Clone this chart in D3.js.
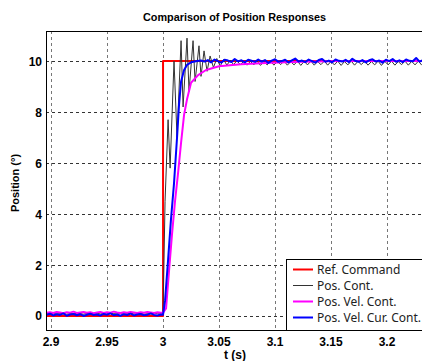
<!DOCTYPE html>
<html>
<head>
<meta charset="utf-8">
<script src="https://cdn.jsdelivr.net/npm/d3@7"></script>
<style>
  body { margin: 0; background: #fff; }
  svg { display: block; }
  .tick-label { font-family: "Liberation Sans", Arial, sans-serif; font-weight: bold; font-size: 12px; fill: #000; }
  .legend text { font-family: "Noto Sans", "Open Sans", sans-serif; font-size: 12px; fill: #222; }
</style>
</head>
<body>
<div id="chart"></div>
<script>
  // sampled parts of the signals (sample step dt)
  let dt = 0.003;
  let preStart = 2.896;

  let legendNames = ["Ref. Command", "Pos. Cont.", "Pos. Vel. Cont.", "Pos. Vel. Cur. Cont."];
  let xTicks = [2.9, 2.95, 3, 3.05, 3.1, 3.15, 3.2];
  let xTickLabels = ["2.9", "2.95", "3", "3.05", "3.1", "3.15", "3.2"];
  let yTicks = [0, 2, 4, 6, 8, 10];

  // reference step
  let refT = [2.8955, 3.0, 3.0, 3.233];
  let refY = [0, 0, 10, 10];

  // Pos. Cont.
  let posPre = [0.09,0.07,0.1,0.08,0.09,0.11,0.07,0.09,0.08,0.1,0.09,0.07,0.1,0.08,0.09,0.11,0.08,0.09,
                0.07,0.1,0.09,0.08,0.1,0.07,0.09,0.11,0.08,0.09,0.1,0.07,0.09,0.08,0.1,0.09,0.08];
  let posTransT = [3.0, 3.0018, 3.0045, 3.0063, 3.0098, 3.0125, 3.0161, 3.0179, 3.0214, 3.0232,
                   3.0268, 3.0286, 3.0321, 3.0339, 3.0366, 3.0393, 3.042];
  let posTransY = [0.08, 4.5, 7.7, 5.8, 10.0, 7.0, 10.8, 8.2, 10.9, 8.8, 10.8, 9.2, 10.6, 9.4, 10.4, 9.6, 10.2];
  let posTailStart = 3.045;
  let posTail = [9.75,10.1,9.8,10.06,9.84,10.03,9.86,10.02,9.85,10.0,9.84,9.99,9.85,10.0,9.83,9.98,9.85,10.0,
                 9.84,9.99,9.86,10.0,9.84,9.98,9.85,10.0,9.83,9.99,9.85,10.0,9.84,9.98,9.86,10.0,9.84,9.99,
                 9.85,10.0,9.83,9.98,9.85,10.0,9.84,9.99,9.86,10.0,9.84,9.98,9.85,10.0,9.83,9.99,9.85,10.0,
                 9.84,9.98,9.86,10.0,9.84,9.99,9.85,10.0,9.84];

  // Pos. Vel. Cont.
  let velPre = [0.13,0.15,0.12,0.16,0.14,0.11,0.15,0.13,0.17,0.12,0.14,0.16,0.13,0.15,0.11,0.14,0.16,0.12,
                0.15,0.13,0.17,0.14,0.12,0.15,0.13,0.16,0.14,0.12,0.15,0.13,0.16,0.14,0.12,0.15,0.13];
  let velT = [3.0, 3.0027, 3.0054, 3.008, 3.0107, 3.0134, 3.0161, 3.0188, 3.0214, 3.025, 3.0313,
              3.0384, 3.05, 3.0696, 3.0964, 3.1232, 3.1589, 3.233];
  let velY = [0.13, 0.3, 1.8, 3.2, 4.5, 5.6, 6.8, 7.9, 8.5, 9.15, 9.45, 9.65, 9.8, 9.88, 9.93, 9.97, 10.0, 10.0];

  // Pos. Vel. Cur. Cont.
  let curPre = [0.05,0.09,0.02,0.07,0.04,0.1,0.01,0.06,0.08,0.03,0.07,0.0,0.05,0.09,0.04,0.06,0.02,0.08,
                0.05,0.1,0.03,0.06,0.01,0.07,0.04,0.09,0.02,0.06,0.08,0.03,0.05,0.1,0.04,0.02,0.06];
  let curTransT = [3.0, 3.0018, 3.0045, 3.0071, 3.0098, 3.0125, 3.0143, 3.0161, 3.0188, 3.0214, 3.025, 3.0304, 3.0339];
  let curTransY = [0.05, 0.6, 2.2, 3.8, 5.2, 7.0, 8.3, 9.2, 9.65, 9.85, 9.95, 10.0, 10.02];
  let curTailStart = 3.037;
  let curTail = [9.98,10.04,9.95,10.06,10.0,9.94,10.05,10.02,9.96,10.08,9.99,10.03,9.95,10.05,10.01,9.97,
                 10.06,9.98,10.04,9.93,10.02,10.07,9.97,10.0,10.05,9.95,10.03,10.1,9.98,10.02,9.96,10.06,
                 10.0,9.94,10.04,10.08,9.97,10.02,9.95,10.06,10.01,9.98,10.05,9.96,10.09,10.0,9.97,10.04,
                 9.95,10.03,10.07,9.98,10.02,9.94,10.05,10.0,10.08,9.97,10.03,9.96,10.06,10.01,9.99,10.12,
                 9.98,10.03];

  let colors = ["#ff0000", "#333333", "#ff00ff", "#0000ff"];
  let widths = [2, 1, 2, 2];

  // build point lists
  function sampled(start, vals) { return vals.map((v, i) => [start + i * dt, v]); }
  function paired(ts, ys) { return ts.map((t, i) => [t, ys[i]]); }

  let series = [
    paired(refT, refY),
    sampled(preStart, posPre).concat(paired(posTransT, posTransY), sampled(posTailStart, posTail)),
    sampled(preStart, velPre).concat(paired(velT, velY)),
    sampled(preStart, curPre).concat(paired(curTransT, curTransY), sampled(curTailStart, curTail))
  ];

  let W = 422, H = 361;
  let m = { left: 46, top: 31, right: 424, bottom: 330 };

  let svg = d3.select("#chart").append("svg").attr("width", W).attr("height", H);

  let x = d3.scaleLinear().domain([2.8955, 3.233]).range([m.left, m.right]);
  let y = d3.scaleLinear().domain([-0.55, 11.18]).range([m.bottom, m.top]);

  svg.append("clipPath").attr("id", "clip").append("rect")
     .attr("x", m.left).attr("y", m.top).attr("width", m.right - m.left).attr("height", m.bottom - m.top);

  // grid
  svg.append("g").selectAll("line").data(xTicks).enter().append("line")
     .attr("x1", d => Math.round(x(d)) + 0.5).attr("x2", d => Math.round(x(d)) + 0.5)
     .attr("y1", m.top).attr("y2", m.bottom)
     .attr("stroke", "#777").attr("stroke-dasharray", "3,3");
  svg.append("g").selectAll("line").data(yTicks).enter().append("line")
     .attr("y1", d => Math.round(y(d)) + 0.5).attr("y2", d => Math.round(y(d)) + 0.5)
     .attr("x1", m.left).attr("x2", m.right)
     .attr("stroke", "#333").attr("stroke-dasharray", "3,3");

  // curves
  let line = d3.line().x(d => x(d[0])).y(d => y(d[1]));
  svg.append("g").attr("clip-path", "url(#clip)").selectAll("path").data(series).enter().append("path")
     .attr("d", line).attr("fill", "none")
     .attr("stroke", (d, i) => colors[i]).attr("stroke-width", (d, i) => widths[i])
     .attr("stroke-linejoin", "round");

  // frame
  svg.append("line").attr("x1", m.left + 0.5).attr("x2", m.left + 0.5).attr("y1", m.top).attr("y2", m.bottom + 0.5).attr("stroke", "#000");
  svg.append("line").attr("x1", m.left).attr("x2", m.right).attr("y1", m.top + 0.5).attr("y2", m.top + 0.5).attr("stroke", "#000");
  svg.append("line").attr("x1", m.left).attr("x2", m.right).attr("y1", m.bottom + 0.5).attr("y2", m.bottom + 0.5).attr("stroke", "#000");

  // tick labels
  svg.append("g").selectAll("text").data(xTicks).enter().append("text").classed("tick-label", true)
     .attr("x", d => x(d)).attr("y", 346).attr("text-anchor", "middle")
     .text((d, i) => xTickLabels[i]);
  svg.append("g").selectAll("text").data(yTicks).enter().append("text").classed("tick-label", true)
     .attr("x", 42).attr("y", d => y(d) + 4.5).attr("text-anchor", "end")
     .text(d => d);

  // titles
  svg.append("text").attr("x", 234.5).attr("y", 21).attr("text-anchor", "middle")
     .attr("textLength", 183).attr("lengthAdjust", "spacingAndGlyphs")
     .style("font", "bold 11px 'Liberation Sans', Arial, sans-serif").text("Comparison of Position Responses");
  svg.append("text").attr("x", 235).attr("y", 359).attr("text-anchor", "middle")
     .style("font", "bold 12px 'Liberation Sans', Arial, sans-serif").text("t (s)");
  svg.append("text").attr("transform", "translate(19,183) rotate(-90)").attr("text-anchor", "middle")
     .style("font", "bold 11px 'Liberation Sans', Arial, sans-serif").text("Position (°)");

  // legend
  let legend = svg.append("g").classed("legend", true);
  legend.append("rect").attr("x", 286.5).attr("y", 259.5).attr("width", 140).attr("height", 71)
        .attr("fill", "#fff").attr("stroke", "#000");
  let rows = legend.selectAll("g").data(legendNames).enter().append("g")
                   .attr("transform", (d, i) => `translate(0,${269 + i * 16})`);
  rows.append("line").attr("x1", 293).attr("x2", 313).attr("y1", 0.5).attr("y2", 0.5)
      .attr("stroke", (d, i) => colors[i]).attr("stroke-width", (d, i) => widths[i]);
  rows.append("text").attr("x", 317).attr("y", 4.5).text(d => d);
</script>
</body>
</html>
